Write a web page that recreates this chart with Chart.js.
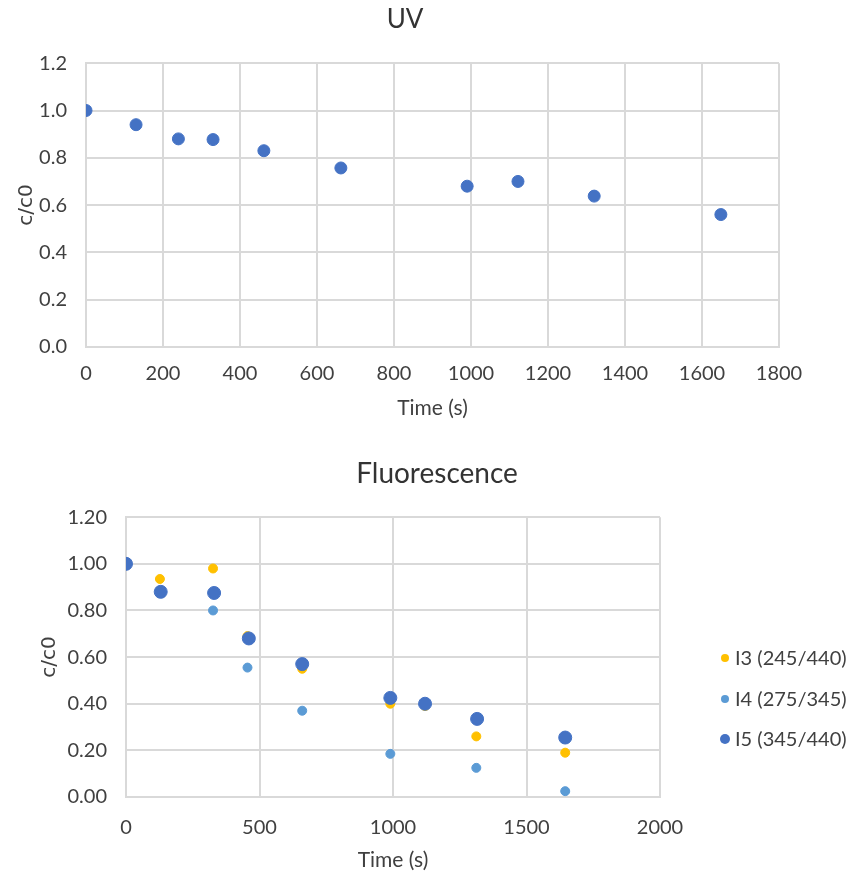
<!DOCTYPE html>
<html>
<head>
<meta charset="utf-8">
<script src="https://cdn.jsdelivr.net/npm/chart.js@4/dist/chart.umd.min.js"></script>
<style>
  body { margin: 0; background: #fff; }
  #wrap { position: relative; width: 851px; height: 876px; overflow: hidden; }
  canvas { position: absolute; left: 0; }
  #uvChart { top: 0; }
  #flChart { top: 430px; }
  #legend { position: absolute; left: 719px; top: 637px; font-family: Lato, sans-serif; font-size: 20px; color: #404040; }
  #legend div { height: 40.5px; line-height: 40px; white-space: nowrap; }
  #legend span { display: inline-block; border-radius: 50%; vertical-align: middle; margin-top: -3px; }
</style>
</head>
<body>
<div id="wrap">
  <canvas id="uvChart" width="851" height="430"></canvas>
  <canvas id="flChart" width="851" height="446"></canvas>
  <div id="legend"></div>
</div>
<script>
// UV data
const uvTime = [0, 130, 240, 330, 462, 662, 990, 1122, 1320, 1649];
const uvRatio = [1.0, 0.94, 0.88, 0.877, 0.83, 0.757, 0.68, 0.70, 0.638, 0.56];

// Fluorescence data
const i3Time = [0, 127, 326, 455, 660, 990, 1120, 1312, 1645];
const i3Ratio = [1.0, 0.935, 0.98, 0.69, 0.55, 0.40, 0.39, 0.26, 0.19];
const i4Time = [0, 326, 455, 660, 990, 1312, 1645];
const i4Ratio = [1.0, 0.80, 0.555, 0.37, 0.185, 0.125, 0.025];
const i5Time = [0, 130, 330, 460, 660, 990, 1120, 1315, 1645];
const i5Ratio = [1.0, 0.88, 0.875, 0.68, 0.57, 0.425, 0.40, 0.335, 0.255];

const seriesNames = ["I3 (245/440)", "I4 (275/345)", "I5 (345/440)"];
const seriesColors = ["#FFC000", "#5B9BD5", "#4472C4"];
const seriesRadius = [4.5, 4.5, 6.5];
const legendRadius = [4, 4, 5];

const tickFont = { family: "Lato, sans-serif", size: 20 };
const gridColor = "#d9d9d9";
const textColor = "#404040";

function toPoints(xs, ys) {
    return xs.map((x, i) => ({ x: x, y: ys[i] }));
}

// cfg holds the per-chart sizes and paddings
function baseOptions(cfg) {
    return {
        responsive: false,
        animation: false,
        layout: { padding: cfg.pad },
        plugins: {
            legend: { display: false },
            tooltip: { enabled: false },
            title: {
                display: true,
                text: cfg.title,
                color: "#333333",
                font: { family: "Lato, sans-serif", size: cfg.titleSize, weight: 'normal' },
                padding: cfg.titlePad
            }
        },
        scales: {
            x: {
                type: 'linear',
                min: 0,
                max: cfg.xMax,
                ticks: { stepSize: cfg.xStep, color: textColor, font: tickFont, padding: cfg.tickPad, callback: (v) => String(v) },
                grid: { color: gridColor, lineWidth: 2, drawTicks: false },
                border: { color: gridColor, width: 2 },
                title: { display: true, text: 'Time (s)', color: textColor, font: { family: "Lato, sans-serif", size: 21 }, padding: { top: 0, bottom: 0 } },
                afterFit: (s) => { s.height = cfg.xHeight; }
            },
            y: {
                min: 0,
                max: 1.2,
                ticks: {
                    stepSize: 0.2,
                    color: textColor,
                    font: tickFont,
                    padding: 19,
                    callback: (v) => v.toFixed(cfg.yDecimals)
                },
                grid: { color: gridColor, lineWidth: 2, drawTicks: false },
                border: { color: gridColor, width: 2 },
                title: { display: true, text: 'c/c0', color: textColor, font: { family: "'DejaVu Sans', sans-serif", size: 20 }, padding: { top: 15, bottom: 0 } },
                afterFit: (s) => { s.width = cfg.yWidth; }
            },
            // empty axis that only keeps room on the right side
            side: {
                type: 'linear',
                position: 'right',
                ticks: { display: false },
                grid: { display: false },
                border: { display: false },
                afterFit: (s) => { s.width = cfg.rightWidth; }
            }
        }
    };
}

new Chart(document.getElementById("uvChart"), {
    type: 'scatter',
    data: {
        datasets: [{
            label: 'UV',
            data: toPoints(uvTime, uvRatio),
            backgroundColor: "#4472C4",
            borderColor: "#4472C4",
            pointRadius: 6
        }]
    },
    options: baseOptions({
        title: 'UV', titleSize: 26, xMax: 1800, xStep: 200, yDecimals: 1,
        yWidth: 86, rightWidth: 31, xHeight: 74, tickPad: 15,
        titlePad: { top: 4, bottom: 28 },
        pad: { top: 0, right: 41, bottom: 9, left: 0 }
    })
});

const flSets = [[i3Time, i3Ratio], [i4Time, i4Ratio], [i5Time, i5Ratio]];
// I5 drawn on top, then I3, then I4 underneath
const drawOrder = [1, 2, 0];

new Chart(document.getElementById("flChart"), {
    type: 'scatter',
    data: {
        datasets: flSets.map((s, i) => ({
            label: seriesNames[i],
            data: toPoints(s[0], s[1]),
            backgroundColor: seriesColors[i],
            borderColor: seriesColors[i],
            pointRadius: seriesRadius[i],
            order: drawOrder[i]
        }))
    },
    options: baseOptions({
        title: 'Fluorescence', titleSize: 28, xMax: 2000, xStep: 500, yDecimals: 2,
        yWidth: 103, rightWidth: 191, xHeight: 76, tickPad: 19,
        titlePad: { top: 27, bottom: 26.6 },
        pad: { top: 0, right: 0, bottom: 3, left: 23 }
    })
});

// legend on the right
const legend = document.getElementById("legend");
seriesNames.forEach((name, i) => {
    const row = document.createElement("div");
    const dot = document.createElement("span");
    const d = legendRadius[i] * 2;
    dot.style.width = d + "px";
    dot.style.height = d + "px";
    dot.style.marginLeft = (6 - legendRadius[i]) + "px";
    dot.style.marginRight = (10 - legendRadius[i]) + "px";
    dot.style.background = seriesColors[i];
    row.appendChild(dot);
    row.appendChild(document.createTextNode(name));
    legend.appendChild(row);
});
</script>
</body>
</html>
